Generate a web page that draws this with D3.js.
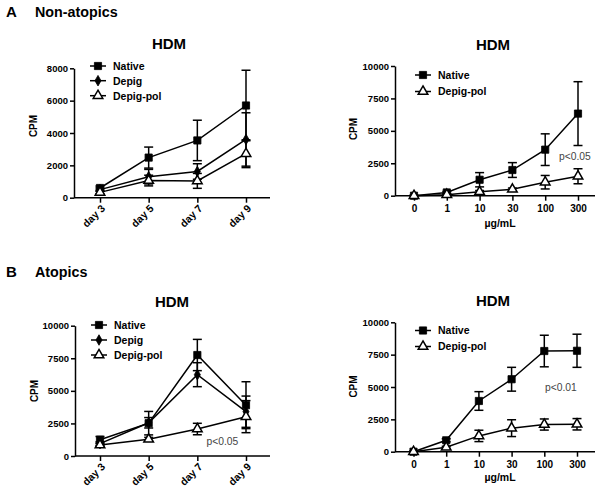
<!DOCTYPE html>
<html><head><meta charset="utf-8">
<script src="https://cdn.jsdelivr.net/npm/d3@7"></script>
<style>body{margin:0;background:#fff} svg{display:block} text{font-family:Arial,"Liberation Sans",sans-serif}</style>
</head><body>
<svg id="c" width="600" height="494"></svg>
<script>
// ---- data ----
const days = ["day 3", "day 5", "day 7", "day 9"];
const doses = ["0", "1", "10", "30", "100", "300"];
const seriesNames = ["Native", "Depig", "Depig-pol"];

// A: Non-atopics, time course
const aNative = [600, 2480, 3540, 5700];
const aNativeErr = [120, 650, 1250, 2180];
const aDepig = [500, 1300, 1620, 3600];
const aDepigErr = [100, 450, 480, 1650];
const aDepigPol = [330, 1060, 1040, 2720];
const aDepigPolErr = [80, 330, 460, 860];

// A: Non-atopics, dose response
const aDoseNative = [0, 250, 1230, 1980, 3550, 6330];
const aDoseNativeErr = [30, 80, 550, 570, 1220, 2460];
const aDoseDepigPol = [0, 80, 300, 490, 1040, 1500];
const aDoseDepigPolErr = [20, 40, 100, 100, 520, 580];

// B: Atopics, time course
const bNative = [1250, 2520, 7750, 3900];
const bNativeErr = [250, 900, 1200, 1800];
const bDepig = [950, 2550, 6240, 3400];
const bDepigErr = [150, 400, 920, 1200];
const bDepigPol = [840, 1280, 2070, 3020];
const bDepigPolErr = [100, 150, 440, 1230];

// B: Atopics, dose response
const bDoseNative = [0, 880, 3920, 5600, 7780, 7800];
const bDoseNativeErr = [30, 120, 720, 920, 1220, 1280];
const bDoseDepigPol = [0, 340, 1220, 1820, 2100, 2120];
const bDoseDepigPolErr = [20, 80, 440, 650, 430, 440];

const ticks8000 = [0, 2000, 4000, 6000, 8000];
const ticks10000 = [0, 2500, 5000, 7500, 10000];

// ---- drawing ----
const svg = d3.select("#c");
const FONT = 'Arial,"Liberation Sans",sans-serif';

function symbolPath(shape) {
  if (shape === "square") return d3.symbol(d3.symbolSquare, 52)();
  if (shape === "diamond") return d3.symbol(d3.symbolDiamond, 32)();
  return d3.symbol(d3.symbolTriangle, 40)();
}
function styleMarker(sel, shape) {
  sel.attr("d", symbolPath(shape))
    .attr("fill", shape === "triangle" ? "#fff" : "#000")
    .attr("stroke", "#000").attr("stroke-width", shape === "triangle" ? 1.5 : 0.8);
}

function panel(cfg) {
  const g = svg.append("g");
  const x = d3.scalePoint().domain(cfg.cats).range(cfg.xr);
  const y = d3.scaleLinear().domain([0, cfg.ymax]).range(cfg.yr);

  // y axis
  const ya = g.append("g").attr("transform", `translate(${cfg.x0},0)`)
    .call(d3.axisLeft(y).tickValues(cfg.yticks).tickSize(4).tickSizeOuter(0).tickPadding(2).tickFormat(d3.format("d")));
  ya.select(".domain").attr("stroke-width", 1.5);
  ya.selectAll(".tick line").attr("stroke-width", 1.5);
  ya.selectAll(".tick text").attr("font-family", FONT).attr("font-weight", "bold").attr("font-size", cfg.tickFont).attr("fill", "#000");

  // x axis
  const xa = g.append("g").attr("transform", `translate(0,${cfg.yr[0]})`)
    .call(d3.axisBottom(x).tickSize(5).tickSizeOuter(0).tickPadding(4));
  xa.select(".domain").remove();
  xa.append("line").attr("x1", cfg.x0).attr("x2", cfg.xend).attr("stroke", "#000").attr("stroke-width", 1.5);
  xa.selectAll(".tick line").attr("stroke-width", 1.5);
  const xt = xa.selectAll(".tick text").attr("font-family", FONT).attr("font-weight", "bold").attr("font-size", 10).attr("fill", "#000");
  if (cfg.rotate) {
    // slanted labels in the original; placed at the same spot below each tick
    xt.attr("text-anchor", "middle").attr("x", -7).attr("y", 22).attr("dy", "0").attr("font-size", 10.5)
      .attr("transform", "rotate(-45,-7,18)");
  }

  // axis labels
  g.append("text").attr("transform", `translate(${cfg.ylabX},${cfg.ylabY}) rotate(-90)`)
    .attr("text-anchor", "middle").attr("font-weight", "bold").attr("font-size", 10).text("CPM");
  if (cfg.xlab) {
    g.append("text").attr("x", cfg.xlabX).attr("y", cfg.xlabY).attr("text-anchor", "middle")
      .attr("font-weight", "bold").attr("font-size", 10.5).text(cfg.xlab);
  }
  // title
  g.append("text").attr("x", cfg.titleX).attr("y", cfg.titleY).attr("text-anchor", "middle")
    .attr("font-weight", "bold").attr("font-size", 15).text("HDM");

  // series
  cfg.series.forEach(s => {
    const pts = cfg.cats.map((c, i) => ({ c, v: s.values[i], e: s.errs[i] }));
    g.append("path").datum(pts)
      .attr("d", d3.line().x(d => x(d.c)).y(d => y(d.v)))
      .attr("fill", "none").attr("stroke", "#000").attr("stroke-width", 1.5);
    const eb = g.append("g").selectAll("g").data(pts).join("g").attr("stroke", "#000").attr("stroke-width", 1.5);
    eb.append("line").attr("x1", d => x(d.c)).attr("x2", d => x(d.c))
      .attr("y1", d => y(d.v + d.e)).attr("y2", d => y(Math.max(0, d.v - d.e)));
    eb.append("line").attr("x1", d => x(d.c) - 4.5).attr("x2", d => x(d.c) + 4.5)
      .attr("y1", d => y(d.v + d.e)).attr("y2", d => y(d.v + d.e));
    eb.append("line").attr("x1", d => x(d.c) - 4.5).attr("x2", d => x(d.c) + 4.5)
      .attr("y1", d => y(Math.max(0, d.v - d.e))).attr("y2", d => y(Math.max(0, d.v - d.e)));
  });
  cfg.series.forEach(s => {
    const pts = cfg.cats.map((c, i) => ({ c, v: s.values[i] }));
    g.append("g").selectAll("path").data(pts).join("path")
      .attr("transform", d => `translate(${x(d.c)},${y(d.v)})`)
      .call(sel => styleMarker(sel, s.shape));
  });

  // legend
  cfg.series.forEach((s, i) => {
    const ly = cfg.legY[i];
    g.append("line").attr("x1", cfg.legX - 8).attr("x2", cfg.legX + 8).attr("y1", ly).attr("y2", ly)
      .attr("stroke", "#000").attr("stroke-width", 1.5);
    g.append("path").attr("transform", `translate(${cfg.legX},${ly})`).call(sel => styleMarker(sel, s.shape));
    g.append("text").attr("x", cfg.legX + 15).attr("y", ly + 3.8).attr("font-weight", "bold")
      .attr("font-size", 10.5).text(s.name);
  });

  if (cfg.p) {
    g.append("text").attr("x", cfg.p.x).attr("y", cfg.p.y).attr("font-size", 10.3).attr("fill", "#444").text(cfg.p.t);
  }
}

// panel letters
svg.append("text").attr("x", 6).attr("y", 16.5).attr("font-weight", "bold").attr("font-size", 15).text("A");
svg.append("text").attr("x", 35).attr("y", 16.5).attr("font-weight", "bold").attr("font-size", 14.3).text("Non-atopics");
svg.append("text").attr("x", 6).attr("y", 277).attr("font-weight", "bold").attr("font-size", 15).text("B");
svg.append("text").attr("x", 35).attr("y", 277).attr("font-weight", "bold").attr("font-size", 14.3).text("Atopics");

panel({
  cats: days, xr: [100, 246], x0: 74, xend: 270, yr: [197.7, 68.3], ymax: 8000, yticks: ticks8000, tickFont: 9.5,
  rotate: true, ylabX: 36.5, ylabY: 126, titleX: 169, titleY: 48.5,
  legX: 98, legY: [66, 80.7, 95.7],
  series: [
    { name: seriesNames[0], shape: "square", values: aNative, errs: aNativeErr },
    { name: seriesNames[1], shape: "diamond", values: aDepig, errs: aDepigErr },
    { name: seriesNames[2], shape: "triangle", values: aDepigPol, errs: aDepigPolErr }
  ]
});

panel({
  cats: doses, xr: [414, 578], x0: 395, xend: 595, yr: [195.7, 66], ymax: 10000, yticks: ticks10000, tickFont: 9.5,
  rotate: false, ylabX: 357, ylabY: 129, titleX: 493, titleY: 50,
  xlab: "µg/mL", xlabX: 500, xlabY: 227,
  legX: 423, legY: [75, 91.5],
  p: { x: 559, y: 160, t: "p<0.05" },
  series: [
    { name: seriesNames[0], shape: "square", values: aDoseNative, errs: aDoseNativeErr },
    { name: seriesNames[2], shape: "triangle", values: aDoseDepigPol, errs: aDoseDepigPolErr }
  ]
});

panel({
  cats: days, xr: [100, 246], x0: 75, xend: 270, yr: [456, 325.7], ymax: 10000, yticks: ticks10000, tickFont: 9.5,
  rotate: true, ylabX: 38, ylabY: 391, titleX: 172, titleY: 306.5,
  legX: 99, legY: [325, 340, 355],
  p: { x: 206.5, y: 445, t: "p<0.05" },
  series: [
    { name: seriesNames[0], shape: "square", values: bNative, errs: bNativeErr },
    { name: seriesNames[1], shape: "diamond", values: bDepig, errs: bDepigErr },
    { name: seriesNames[2], shape: "triangle", values: bDepigPol, errs: bDepigPolErr }
  ]
});

panel({
  cats: doses, xr: [413.5, 577], x0: 395, xend: 595, yr: [451.7, 322.3], ymax: 10000, yticks: ticks10000, tickFont: 9.5,
  rotate: false, ylabX: 357, ylabY: 386.5, titleX: 493, titleY: 306,
  xlab: "µg/mL", xlabX: 500, xlabY: 481,
  legX: 423, legY: [330.5, 346.5],
  p: { x: 545, y: 391, t: "p<0.01" },
  series: [
    { name: seriesNames[0], shape: "square", values: bDoseNative, errs: bDoseNativeErr },
    { name: seriesNames[2], shape: "triangle", values: bDoseDepigPol, errs: bDoseDepigPolErr }
  ]
});
</script>
</body></html>
